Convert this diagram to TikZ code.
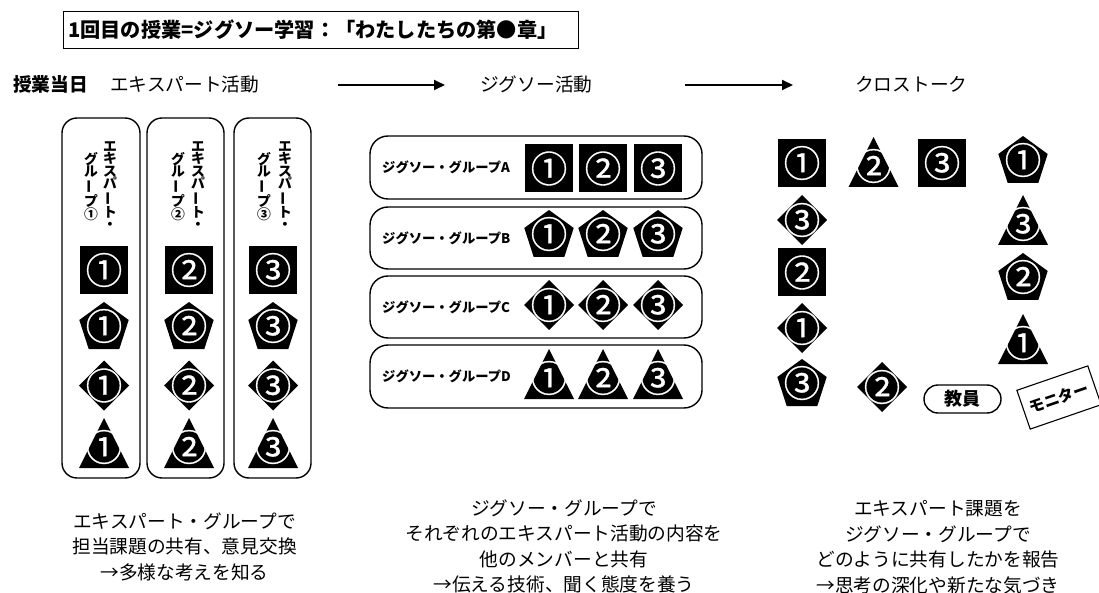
\documentclass[tikz,border=0pt]{standalone}
\usepackage{fontspec}
\setmainfont{Noto Sans CJK JP}
\newfontfamily\numfont[FakeBold=0.9]{Noto Sans CJK JP}
\usepackage{graphicx}
\usetikzlibrary{arrows.meta}
\newcommand\vbar{\rotatebox[origin=c]{90}{ー}}
% shapes: name, x, y, digit
\newcommand\SQ[4]{\fill (#2-24,#3-24) rectangle (#2+24,#3+24);
  \node[num] (#1) at (#2,#3) {#4};}
\newcommand\PE[4]{\fill (#2,#3-26) -- (#2+24.7,#3-8) -- (#2+15.3,#3+21) -- (#2-15.3,#3+21) -- (#2-24.7,#3-8) -- cycle;
  \node[num] (#1) at (#2,#3-2) {#4};}
\newcommand\DI[4]{\fill (#2,#3-25) -- (#2+25,#3) -- (#2,#3+25) -- (#2-25,#3) -- cycle;
  \node[num] (#1) at (#2,#3) {#4};}
% triangle: name, x, apex y, digit
\newcommand\TR[4]{\fill (#2,#3) -- (#2+25,#3+50) -- (#2-25,#3+50) -- cycle;
  \node[num] (#1) at (#2,#3+29) {#4};}
\tikzset{
  num/.style={text=white, inner sep=0pt, font=\numfont\fontsize{36.5}{36.5}\selectfont},
  head/.style={inner sep=0pt, font=\fontsize{18.7}{22}\selectfont},
  body/.style={inner sep=0pt, align=center, font=\fontsize{18.7}{25.5}\selectfont},
  vtext/.style={inner sep=0pt, align=center, anchor=north, font=\bfseries\fontsize{13.8}{12.6}\selectfont},
  glabel/.style={inner sep=0pt, anchor=west, font=\bfseries\fontsize{13.3}{15}\selectfont},
  colbox/.style={draw, line width=1.4pt, rounded corners=15pt},
  arr/.style={line width=1.8pt, -{Triangle[length=11pt,width=10pt]}}
}
\begin{document}
\begin{tikzpicture}[x=1pt,y=-1pt]
\useasboundingbox (0,0) rectangle (1099,593);
\fill[white] (0,0) rectangle (1099,593);
% title
\node[draw, line width=1pt, minimum width=515pt, minimum height=37pt, inner sep=0pt] (titlebox) at (320.5,30) {};
\node[inner sep=0pt, anchor=west, font=\bfseries\fontsize{20.2}{24}\selectfont] (title) at (68,30) {1回目の授業=ジグソー学習：「わたしたちの第●章」};
% headings
\node[head, anchor=west, font=\bfseries\fontsize{18.7}{22}\selectfont] (day) at (13,84.5) {授業当日};
\node[head, anchor=west] (h1) at (110,84.5) {エキスパート活動};
\node[head, anchor=west] (h2) at (480,84.5) {ジグソー活動};
\node[head, anchor=west] (h3) at (855,84.5) {クロストーク};
\coordinate (a1s) at (338,85); \coordinate (a1e) at (445,85);
\coordinate (a2s) at (685,85); \coordinate (a2e) at (793,85);
\draw[arr] (a1s) -- (a1e);
\draw[arr] (a2s) -- (a2e);
% expert columns
\draw[colbox] (62,118) rectangle (140,478);
\draw[colbox] (147,118) rectangle (224,478);
\draw[colbox] (234,118) rectangle (311,478);
\node[vtext] (e1a) at (110,141) {エ\\キ\\ス\\パ\\\vbar\\ト\\・};
\node[vtext] (e1b) at (91,152) {グ\\ル\\\vbar\\プ\\①};
\node[vtext] (e2a) at (198,141) {エ\\キ\\ス\\パ\\\vbar\\ト\\・};
\node[vtext] (e2b) at (178,152) {グ\\ル\\\vbar\\プ\\②};
\node[vtext] (e3a) at (285,141) {エ\\キ\\ス\\パ\\\vbar\\ト\\・};
\node[vtext] (e3b) at (264,152) {グ\\ル\\\vbar\\プ\\③};
\SQ{c1s}{104}{270}{①} \PE{c1p}{104}{328}{①} \DI{c1d}{104}{385.5}{①} \TR{c1t}{104}{418}{①}
\SQ{c2s}{189}{270}{②} \PE{c2p}{189}{328}{②} \DI{c2d}{189}{385.5}{②} \TR{c2t}{189}{418}{②}
\SQ{c3s}{273}{270}{③} \PE{c3p}{273}{328}{③} \DI{c3d}{273}{385.5}{③} \TR{c3t}{273}{418}{③}
% jigsaw groups
\draw[colbox, rounded corners=18pt] (370,136) rectangle (702,199);
\draw[colbox, rounded corners=18pt] (370,207) rectangle (702,269);
\draw[colbox, rounded corners=18pt] (370,276) rectangle (702,338);
\draw[colbox, rounded corners=18pt] (370,345) rectangle (702,408);
\node[glabel] (gA) at (382,167.5) {ジグソー・グループA};
\node[glabel] (gB) at (382,238) {ジグソー・グループB};
\node[glabel] (gC) at (382,307) {ジグソー・グループC};
\node[glabel] (gD) at (382,376.5) {ジグソー・グループD};
\SQ{a1}{549}{168.5}{①} \SQ{a2}{603}{168.5}{②} \SQ{a3}{658}{168.5}{③}
\PE{b1}{549}{236}{①} \PE{b2}{603}{236}{②} \PE{b3}{658}{236}{③}
\DI{d1}{549}{305}{①} \DI{d2}{603}{305}{②} \DI{d3}{658}{305}{③}
\TR{t1}{549}{349}{①} \TR{t2}{603}{349}{②} \TR{t3}{658}{349}{③}
% cross talk
\SQ{x1}{802}{163}{①} \TR{x2}{873.5}{137}{②} \SQ{x3}{942}{163}{③} \PE{x4}{1023}{162}{①}
\DI{x5}{802}{220}{③} \SQ{x6}{802}{272.5}{②} \DI{x7}{802}{328}{①} \PE{x8}{802}{385}{③}
\DI{x9}{882}{387}{②}
\TR{x10}{1023}{195}{③} \PE{x11}{1023}{279}{②} \TR{x12}{1023}{314}{①}
\node[draw, line width=1.4pt, rounded corners=14pt, minimum width=77pt, minimum height=28pt, inner sep=0pt, font=\bfseries\fontsize{18}{20}\selectfont] (teacher) at (962.5,399) {教員};
\node[draw, line width=1.1pt, rotate=19, minimum width=75pt, minimum height=41pt, inner sep=0pt, font=\bfseries\fontsize{15.5}{17}\selectfont] (monitor) at (1059,397.5) {モニター};
% bottom texts
\node[body] (n1) at (184.5,546.5) {エキスパート・グループで\\担当課題の共有、意見交換\\→多様な考えを知る};
\node[body] (n2) at (564,546.5) {ジグソー・グループで\\それぞれのエキスパート活動の内容を\\他のメンバーと共有\\→伝える技術、聞く態度を養う};
\node[body] (n3) at (938,547) {エキスパート課題を\\ジグソー・グループで\\どのように共有したかを報告\\→思考の深化や新たな気づき};
\end{tikzpicture}
\end{document}
